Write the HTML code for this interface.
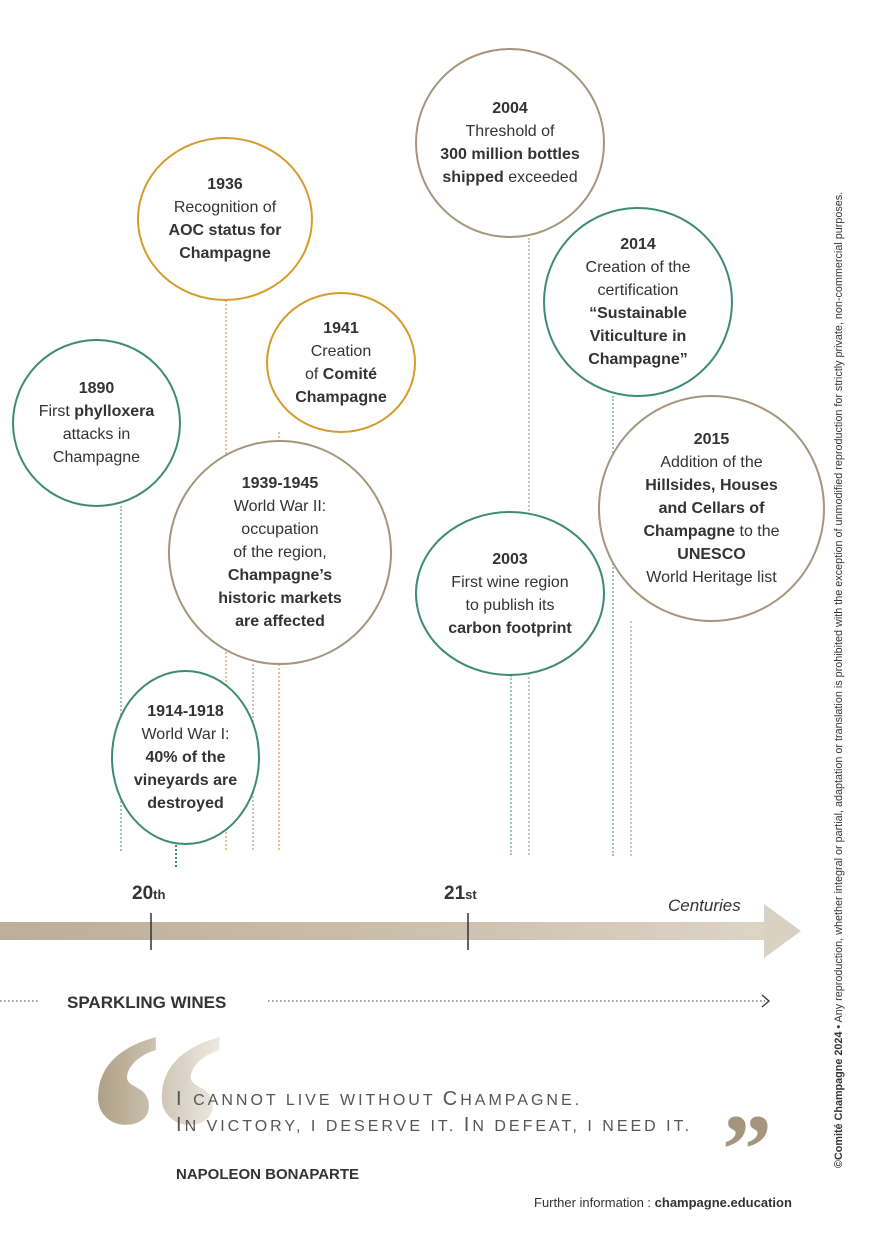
<!DOCTYPE html>
<html><head><meta charset="utf-8"><style>
body{margin:0;width:873px;height:1240px;background:#fff;position:relative;overflow:hidden;font-family:"Liberation Sans",sans-serif;color:#333}
.c{position:absolute;border-radius:50%;border:2.5px solid;box-sizing:border-box;display:flex;align-items:center;justify-content:center;text-align:center;font-size:16px;line-height:23px;background:#fff}
.g{border-color:#3d8c72}.o{border-color:#d59b2b}.t{border-color:#a5957d}
b{font-weight:bold}
.v{position:absolute;width:0;border-left:2px dotted}
</style></head><body>
<div class="v" style="left:120px;top:506px;height:345px;border-color:#9cc7b7"></div>
<div class="v" style="left:225px;top:300px;height:550px;border-color:#e3c48a"></div>
<div class="v" style="left:252px;top:664px;height:186px;border-color:#cfc6b8"></div>
<div class="v" style="left:278px;top:432px;height:418px;border-color:#e3c48a"></div>
<div class="v" style="left:175px;top:845px;height:22px;border-color:#3d8c72"></div>
<div class="v" style="left:510px;top:675px;height:180px;border-color:#9cc7b7"></div>
<div class="v" style="left:528px;top:238px;height:617px;border-color:#cfc6b8"></div>
<div class="v" style="left:612px;top:396px;height:460px;border-color:#9cc7b7"></div>
<div class="v" style="left:630px;top:621px;height:235px;border-color:#cfc6b8"></div>

<div class="c o" style="left:137px;top:137px;width:176px;height:164px"><div><b>1936</b><br>Recognition of<br><b>AOC status for<br>Champagne</b></div></div>
<div class="c o" style="left:266px;top:292px;width:150px;height:141px"><div><b>1941</b><br>Creation<br>of <b>Comité<br>Champagne</b></div></div>
<div class="c g" style="left:12px;top:339px;width:169px;height:168px"><div><b>1890</b><br>First <b>phylloxera</b><br>attacks in<br>Champagne</div></div>
<div class="c t" style="left:168px;top:440px;width:224px;height:225px"><div><b>1939-1945</b><br>World War II:<br>occupation<br>of the region,<br><b>Champagne’s<br>historic markets<br>are affected</b></div></div>
<div class="c g" style="left:111px;top:670px;width:149px;height:175px"><div><b>1914-1918</b><br>World War I:<br><b>40% of the<br>vineyards are<br>destroyed</b></div></div>
<div class="c t" style="left:415px;top:48px;width:190px;height:190px"><div><b>2004</b><br>Threshold of<br><b>300 million bottles<br>shipped</b> exceeded</div></div>
<div class="c g" style="left:543px;top:207px;width:190px;height:190px"><div><b>2014</b><br>Creation of the<br>certification<br><b>“Sustainable<br>Viticulture in<br>Champagne”</b></div></div>
<div class="c t" style="left:598px;top:395px;width:227px;height:227px"><div><b>2015</b><br>Addition of the<br><b>Hillsides, Houses<br>and Cellars of<br>Champagne</b> to the<br><b>UNESCO</b><br>World Heritage list</div></div>
<div class="c g" style="left:415px;top:511px;width:190px;height:165px"><div><b>2003</b><br>First wine region<br>to publish its<br><b>carbon footprint</b></div></div>

<svg style="position:absolute;left:0;top:0" width="873" height="1240">
<defs><linearGradient id="ax" x1="0" x2="1"><stop offset="0" stop-color="#bcae98"/><stop offset="0.55" stop-color="#ccc0ae"/><stop offset="1" stop-color="#dcd4c6"/></linearGradient>
<linearGradient id="q" x1="0" x2="1"><stop offset="0" stop-color="#a8977c"/><stop offset="1" stop-color="#f2efe9"/></linearGradient></defs>
<rect x="0" y="922" width="770" height="18" fill="url(#ax)"/>
<polygon points="764,904 801,931 764,958" fill="#d9d1c3"/>
<line x1="151" y1="913" x2="151" y2="950" stroke="#333" stroke-width="1.5"/>
<line x1="468" y1="913" x2="468" y2="950" stroke="#333" stroke-width="1.5"/>
<text x="132" y="899" font-size="19" font-weight="bold" fill="#333">20<tspan font-size="13">th</tspan></text>
<text x="444" y="899" font-size="19" font-weight="bold" fill="#333">21<tspan font-size="13">st</tspan></text>
<text x="668" y="911" font-size="17" font-style="italic" fill="#333">Centuries</text>
<line x1="0" y1="1001" x2="40" y2="1001" stroke="#444" stroke-dasharray="1.5 2.5"/>
<text x="67" y="1008" font-size="17" font-weight="bold" fill="#333">SPARKLING WINES</text>
<line x1="268" y1="1001" x2="765" y2="1001" stroke="#444" stroke-dasharray="1.5 2.5"/>
<polyline points="762,995 769,1001 762,1007" fill="none" stroke="#333" stroke-width="1.3"/>
<text x="84" y="1230" font-size="290" font-weight="bold" font-family="Liberation Serif" fill="url(#q)">“</text>
<text x="722" y="1183" font-size="100" font-weight="bold" font-family="Liberation Serif" fill="#a5957d">”</text>
<text x="176" y="1105" font-size="20" fill="#555" letter-spacing="3">I <tspan font-size="16">CANNOT LIVE WITHOUT </tspan>C<tspan font-size="16">HAMPAGNE.</tspan></text>
<text x="176" y="1131" font-size="20" fill="#555" letter-spacing="3">I<tspan font-size="16">N VICTORY, I DESERVE IT. </tspan>I<tspan font-size="16">N DEFEAT, I NEED IT.</tspan></text>
<text x="176" y="1179" font-size="15" font-weight="bold" fill="#333">NAPOLEON BONAPARTE</text>
<text x="534" y="1207" font-size="13" fill="#333">Further information : <tspan font-weight="bold">champagne.education</tspan></text>
<text transform="translate(842,1168) rotate(-90)" font-size="10.8" fill="#333"><tspan font-weight="bold">©Comité Champagne 2024</tspan> • Any reproduction, whether integral or partial, adaptation or translation is prohibited with the exception of unmodified reproduction for strictly private, non-commercial purposes.</text>
</svg>
</body></html>
